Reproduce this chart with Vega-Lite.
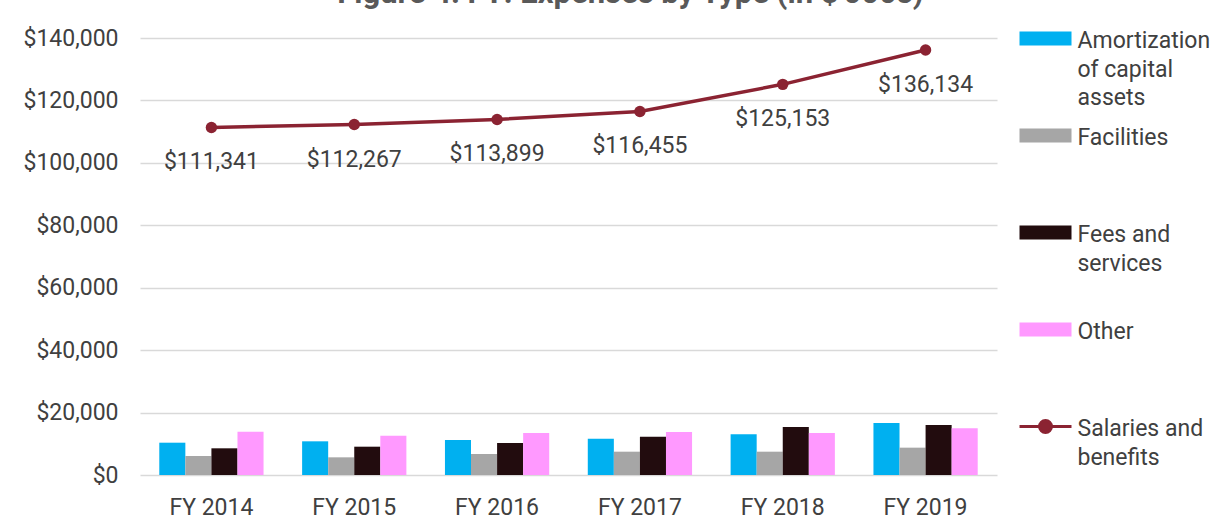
{
  "$schema": "https://vega.github.io/schema/vega-lite/v6.json",
  "autosize": "none",
  "width": 857,
  "height": 437,
  "padding": {"left": 140, "top": 38, "right": 223, "bottom": 44},
  "background": "#ffffff",
  "title": {
    "text": "Figure 4. FY: Expenses by Type (in $'000s)",
    "font": "Roboto",
    "fontSize": 31,
    "fontWeight": "bold",
    "color": "#595959",
    "anchor": "middle",
    "frame": "group",
    "dx": 62,
    "dy": -17,
    "offset": 0
  },
  "config": {
    "font": "Roboto",
    "view": {"stroke": null},
    "axis": {"labelFont": "Roboto", "labelFontSize": 23, "labelColor": "#404040"},
    "legend": {"labelFont": "Roboto", "labelFontSize": 23, "labelColor": "#404040"}
  },
  "data": {
    "values": [
      {"year": "FY 2014", "series": "Amortization of capital assets", "value": 10350},
      {"year": "FY 2015", "series": "Amortization of capital assets", "value": 10790},
      {"year": "FY 2016", "series": "Amortization of capital assets", "value": 11210},
      {"year": "FY 2017", "series": "Amortization of capital assets", "value": 11640},
      {"year": "FY 2018", "series": "Amortization of capital assets", "value": 13030},
      {"year": "FY 2019", "series": "Amortization of capital assets", "value": 16660},
      {"year": "FY 2014", "series": "Facilities", "value": 6090},
      {"year": "FY 2015", "series": "Facilities", "value": 5660},
      {"year": "FY 2016", "series": "Facilities", "value": 6730},
      {"year": "FY 2017", "series": "Facilities", "value": 7470},
      {"year": "FY 2018", "series": "Facilities", "value": 7470},
      {"year": "FY 2019", "series": "Facilities", "value": 8760},
      {"year": "FY 2014", "series": "Fees and services", "value": 8550},
      {"year": "FY 2015", "series": "Fees and services", "value": 9070},
      {"year": "FY 2016", "series": "Fees and services", "value": 10250},
      {"year": "FY 2017", "series": "Fees and services", "value": 12280},
      {"year": "FY 2018", "series": "Fees and services", "value": 15380},
      {"year": "FY 2019", "series": "Fees and services", "value": 16020},
      {"year": "FY 2014", "series": "Other", "value": 13880},
      {"year": "FY 2015", "series": "Other", "value": 12600},
      {"year": "FY 2016", "series": "Other", "value": 13460},
      {"year": "FY 2017", "series": "Other", "value": 13780},
      {"year": "FY 2018", "series": "Other", "value": 13460},
      {"year": "FY 2019", "series": "Other", "value": 14950},
      {"year": "FY 2014", "series": "Salaries and benefits", "value": 111341},
      {"year": "FY 2015", "series": "Salaries and benefits", "value": 112267},
      {"year": "FY 2016", "series": "Salaries and benefits", "value": 113899},
      {"year": "FY 2017", "series": "Salaries and benefits", "value": 116455},
      {"year": "FY 2018", "series": "Salaries and benefits", "value": 125153},
      {"year": "FY 2019", "series": "Salaries and benefits", "value": 136134}
    ]
  },
  "encoding": {
    "x": {
      "field": "year",
      "type": "nominal",
      "title": null,
      "scale": {"paddingInner": 0.27, "paddingOuter": 0.135},
      "axis": {"labelAngle": 0, "domain": false, "ticks": false, "labelPadding": 21, "grid": false}
    }
  },
  "layer": [
    {
      "transform": [{"filter": "datum.series !== 'Salaries and benefits'"}],
      "mark": {"type": "bar"},
      "encoding": {
        "xOffset": {"field": "series", "type": "nominal", "sort": ["Amortization of capital assets", "Facilities", "Fees and services", "Other"], "scale": {"paddingInner": 0, "paddingOuter": 0}},
        "y": {
          "field": "value",
          "type": "quantitative",
          "title": null,
          "scale": {"domain": [0, 140000], "nice": false},
          "axis": {"values": [0, 20000, 40000, 60000, 80000, 100000, 120000, 140000], "format": "$,.0f", "domain": false, "ticks": false, "labelPadding": 22, "gridColor": "#D9D9D9", "gridWidth": 1.5}
        },
        "color": {
          "field": "series",
          "type": "nominal",
          "title": null,
          "scale": {
            "domain": ["Amortization of capital assets", "Facilities", "Fees and services", "Other", "Salaries and benefits"],
            "range": ["#00B0F0", "#A6A6A6", "#220C0E", "#FF99FF", "#8B2332"]
          },
          "legend": {
            "orient": "right",
            "offset": 47.5,
            "padding": -11,
            "gridAlign": "all",
            "rowPadding": 13,
            "symbolSize": 2704,
            "labelOffset": 20.5,
            "labelLimit": 300,
            "labelBaseline": "top",
            "labelExpr": "datum.label === 'Amortization of capital assets' ? ['Amortization', 'of capital', 'assets'] : datum.label === 'Fees and services' ? ['Fees and', 'services'] : datum.label === 'Salaries and benefits' ? ['Salaries and', 'benefits'] : datum.label",
            "encode": {
              "symbols": {
                "update": {
                  "shape": {"signal": "datum.value === 'Salaries and benefits' ? 'M-1,0H1M0.23,0A0.23,0.23,0,1,1,-0.23,0A0.23,0.23,0,1,1,0.23,0Z' : 'M-1,-0.27H1V0.27H-1Z'"},
                  "fill": {"signal": "scale('color', datum.value)"},
                  "stroke": {"signal": "scale('color', datum.value)"},
                  "strokeWidth": {"signal": "datum.value === 'Salaries and benefits' ? 3 : 0"},
                  "fillOpacity": {"value": 1},
                  "opacity": {"value": 1}
                }
              },
              "labels": {
                "update": {"lineHeight": {"value": 28.5}, "dy": {"value": -8.5}}
              }
            }
          }
        }
      }
    },
    {
      "transform": [{"filter": "datum.series === 'Salaries and benefits'"}],
      "mark": {"type": "line", "strokeWidth": 3.5, "point": {"filled": true, "size": 130, "opacity": 1}},
      "encoding": {
        "y": {"field": "value", "type": "quantitative"},
        "color": {"field": "series", "type": "nominal"}
      }
    },
    {
      "transform": [{"filter": "datum.series === 'Salaries and benefits'"}],
      "mark": {"type": "text", "dy": 35, "fontSize": 23, "font": "Roboto", "color": "#404040", "baseline": "middle"},
      "encoding": {
        "y": {"field": "value", "type": "quantitative"},
        "text": {"field": "value", "type": "quantitative", "format": "$,.0f"}
      }
    }
  ]
}
